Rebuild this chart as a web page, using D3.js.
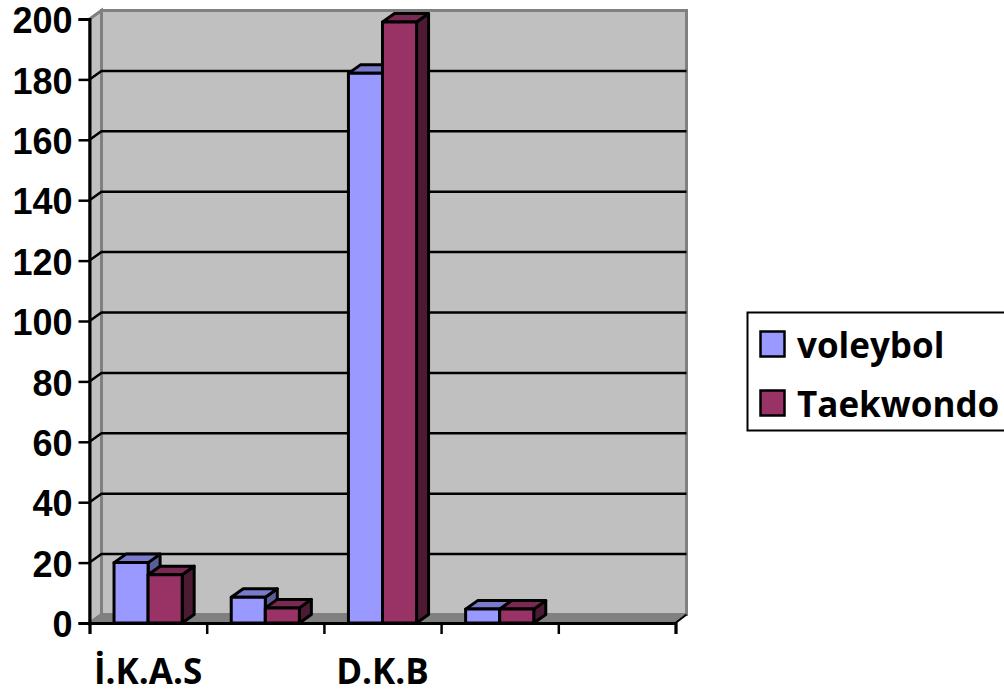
<!DOCTYPE html>
<html>
<head>
<meta charset="utf-8">
<script src="https://cdn.jsdelivr.net/npm/d3@7/dist/d3.min.js"></script>
<style>
  html, body { margin: 0; padding: 0; background: #fff; overflow: hidden; }
  text { font-family: "Open Sans", Lato, sans-serif; font-weight: 700; fill: #000; }
</style>
</head>
<body>
<svg id="chart" width="1004" height="693"></svg>
<script>
// Clustered 3D-style column chart: voleybol vs Taekwondo
const categories = ["İ.K.A.S", "", "D.K.B", "", ""];
const seriesNames = ["voleybol", "Taekwondo"];
const voleybol = [20, 8.5, 182, 4.6, null];
const taekwondo = [16, 5, 199, 4.6, null];
const yTicks = [0, 20, 40, 60, 80, 100, 120, 140, 160, 180, 200];
const seriesFill = ["#9999FF", "#993366"];
const seriesTop = ["#7A7ACC", "#7A2952"];
const seriesSide = ["#5C5C99", "#4D1A33"];

const svg = d3.select("#chart");
const depthX = 12, depthY = 8.5;

const x = d3.scaleLinear().domain([0, categories.length]).range([89.5, 675.5]);
const y = d3.scaleLinear().domain([0, 200]).range([623, 19]);
const inner = d3.scaleBand().domain(d3.range(seriesNames.length)).paddingInner(0).paddingOuter(0.72);

const poly = pts => pts.map(p => p.join(",")).join(" ");

// Back wall, side wall and floor
const x0 = x.range()[0], x1 = x.range()[1], y0 = y(0), yTop = y(200);
svg.append("polygon").attr("points", poly([[x0, y0], [x0, yTop], [x0 + depthX, yTop - depthY], [x0 + depthX, y0 - depthY]]))
  .attr("fill", "#C0C0C0").attr("stroke", "#808080").attr("stroke-width", 3);
svg.append("rect").attr("x", x0 + depthX).attr("y", yTop - depthY)
  .attr("width", x1 - x0 - 1).attr("height", y0 - yTop)
  .attr("fill", "#C0C0C0").attr("stroke", "#808080").attr("stroke-width", 3);
svg.append("polygon").attr("points", poly([[x0, y0], [x0 + depthX, y0 - depthY], [x1 + depthX - 1, y0 - depthY], [x1, y0]]))
  .attr("fill", "#808080");

// Gridlines run across the back wall and fold down the side wall
const grid = svg.append("g").attr("fill", "none").attr("stroke", "#000").attr("stroke-width", 2.5);
yTicks.filter(t => t > 0 && t < 200).forEach(t => {
  grid.append("polyline").attr("points", poly([[x0, y(t)], [x0 + depthX, y(t) - depthY], [x1 + depthX - 1, y(t) - depthY]]));
});

// Columns: side and top faces are offset from the front face by the chart depth
const drawBar = (cat, s, value) => {
  if (value == null) return;
  inner.range([x(cat), x(cat + 1)]);
  const l = inner(s), r = l + inner.bandwidth(), t = y(value), b = y(0);
  const g = svg.append("g").attr("stroke", "#000").attr("stroke-width", 3).attr("stroke-linejoin", "round");
  g.append("polygon").attr("points", poly([[r, t], [r + depthX, t - depthY], [r + depthX, b - depthY], [r, b]])).attr("fill", seriesSide[s]);
  g.append("polygon").attr("points", poly([[l, t], [l + depthX, t - depthY], [r + depthX, t - depthY], [r, t]])).attr("fill", seriesTop[s]);
  g.append("rect").attr("x", l).attr("y", t).attr("width", r - l).attr("height", b - t).attr("fill", seriesFill[s]);
};
categories.forEach((c, i) => {
  drawBar(i, 0, voleybol[i]);
  drawBar(i, 1, taekwondo[i]);
});

// Value axis
const yAxis = svg.append("g").attr("transform", `translate(${x0},0)`)
  .call(d3.axisLeft(y).tickValues(yTicks).tickSize(11).tickPadding(6));
yAxis.selectAll("path").attr("stroke", "#000").attr("stroke-width", 3);
yAxis.selectAll(".tick line").attr("stroke", "#000").attr("stroke-width", 2.5);
yAxis.selectAll("text").attr("font-size", 36).style("font-family", '"Liberation Sans", sans-serif').attr("dy", "0.38em");

// Category axis: ticks on the category boundaries, labels centred between them
const xAxis = svg.append("g").attr("transform", `translate(0,${y0})`)
  .call(d3.axisBottom(x).tickValues(d3.range(categories.length + 1)).tickSize(11).tickFormat(""));
xAxis.selectAll("path").attr("stroke", "#000").attr("stroke-width", 3);
xAxis.selectAll(".tick line").attr("stroke", "#000").attr("stroke-width", 2.5);
categories.forEach((c, i) => {
  if (!c) return;
  svg.append("text").attr("x", x(i + 0.5)).attr("y", 684).attr("text-anchor", "middle").attr("font-size", 35).text(c);
});

// Front-right corner of the floor
svg.append("line").attr("x1", x1).attr("y1", y0).attr("x2", x1 + depthX - 1).attr("y2", y0 - depthY)
  .attr("stroke", "#000").attr("stroke-width", 2);

// Legend, running off the right edge of the canvas
const legend = svg.append("g");
legend.append("rect").attr("x", 747.5).attr("y", 312.5).attr("width", 270).attr("height", 118)
  .attr("fill", "#fff").attr("stroke", "#000").attr("stroke-width", 2);
seriesNames.forEach((name, i) => {
  const top = 331.5 + i * 59;
  legend.append("rect").attr("x", 760.5).attr("y", top).attr("width", 24).attr("height", 25)
    .attr("fill", seriesFill[i]).attr("stroke", "#000").attr("stroke-width", 2.5);
  legend.append("text").attr("x", 797).attr("y", top + 26).attr("font-size", 35).text(name);
});
</script>
</body>
</html>
